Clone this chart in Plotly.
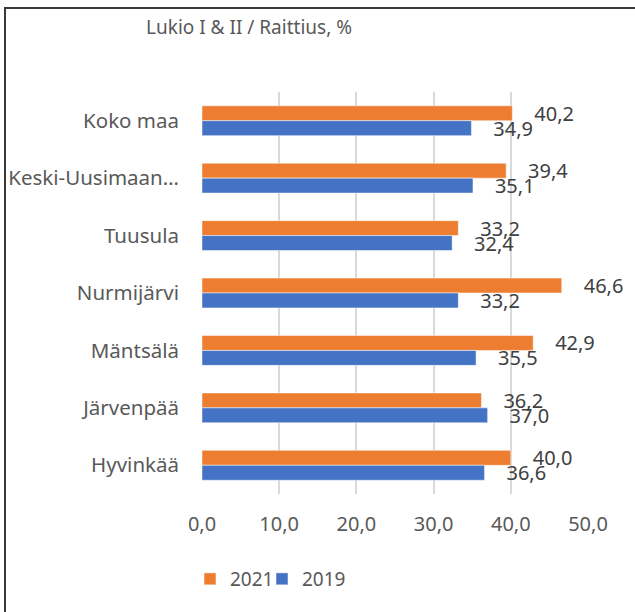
import plotly.graph_objects as go

categories = ["Koko maa", "Keski-Uusimaan…", "Tuusula", "Nurmijärvi", "Mäntsälä", "Järvenpää", "Hyvinkää"]
values_2021 = [40.2, 39.4, 33.2, 46.6, 42.9, 36.2, 40.0]
values_2019 = [34.9, 35.1, 32.4, 33.2, 35.5, 37.0, 36.6]
series_names = ["2021", "2019"]
x_ticks = [0, 10, 20, 30, 40, 50]

W, H = 635, 612
L, R, T, B = 202, 47, 92, 118
pw, ph = W - L - R, H - T - B

FONT = "Noto Sans"
GRAY = "#595959"
PAD = "\u00a0" * 3 + "\u2006"

fig = go.Figure()
for name, vals, col, leg in [(series_names[0], values_2021, "#ED7D31", "legend"),
                             (series_names[1], values_2019, "#4472C4", "legend2")]:
    fig.add_trace(go.Bar(
        y=categories, x=vals, name=name, orientation="h", legend=leg,
        marker=dict(color=col, line=dict(color="white", width=0.5)),
        texttemplate=PAD + "%{x:.1f}", textposition="outside",
        textfont=dict(family=FONT, size=20, color="#404040"),
        constraintext="none", cliponaxis=False,
    ))

def px_x(p):
    return (p - L) / pw

def px_y(p):
    return (H - B - p) / ph

leg_common = dict(orientation="h", yanchor="middle", xanchor="left",
                  y=px_y(579), font=dict(family=FONT, size=19, color=GRAY),
                  itemwidth=30, bgcolor="rgba(0,0,0,0)")

fig.update_layout(
    width=W, height=H,
    margin=dict(l=L, r=R, t=T, b=B, autoexpand=False),
    paper_bgcolor="white", plot_bgcolor="white",
    separators=", ",
    barmode="group", bargap=0.48, bargroupgap=0,
    font=dict(family=FONT, size=20, color=GRAY),
    title=dict(text="Lukio I & II / Raittius, %", font=dict(family=FONT, size=19, color=GRAY),
               x=249 / W, xref="container", xanchor="center",
               y=1 - 27 / H, yref="container", yanchor="middle"),
    xaxis=dict(range=[0, 50], tickvals=x_ticks, tickformat=".1f",
               showgrid=True, gridcolor="#d9d9d9", gridwidth=1.5,
               zeroline=False, showline=False, ticks="",
               ticklabelstandoff=16,
               tickfont=dict(family=FONT, size=20, color=GRAY)),
    yaxis=dict(autorange="reversed", showgrid=False, zeroline=False, showline=False,
               ticks="", ticklabelstandoff=22,
               tickfont=dict(family=FONT, size=20.5, color=GRAY)),
    legend=dict(x=px_x(190), **leg_common),
    legend2=dict(x=px_x(262), **leg_common),
    showlegend=True,
    shapes=[dict(type="rect", xref="paper", yref="paper",
                 x0=px_x(5), x1=px_x(W + 20), y0=px_y(H + 20), y1=px_y(8),
                 line=dict(color="#3a3a3a", width=2), fillcolor="rgba(0,0,0,0)")],
)

fig.write_html("out.html", config={"displayModeBar": False},
               post_script="document.body.style.margin='0';document.body.style.overflow='hidden';")
